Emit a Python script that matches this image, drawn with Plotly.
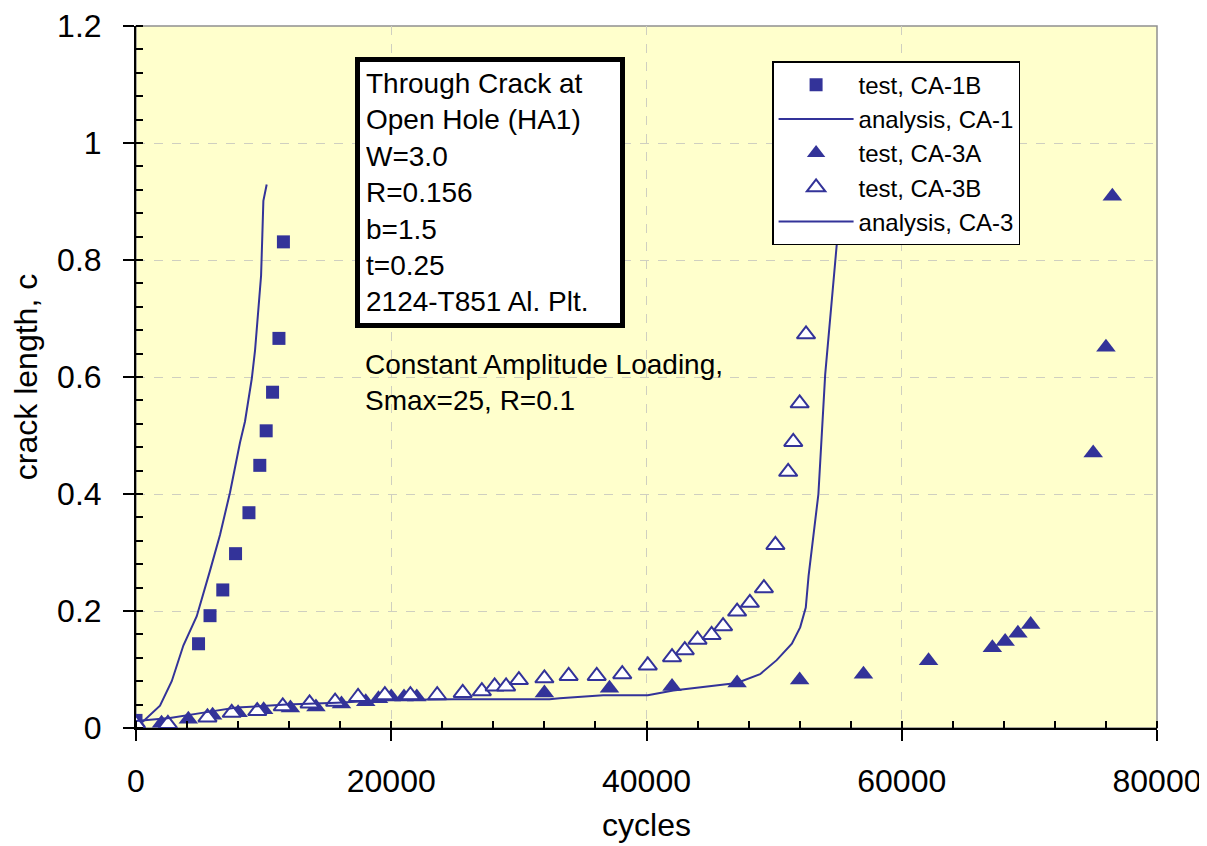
import plotly.graph_objects as go

# ---------------- data ----------------
ca1b_cycles = [0, 4900, 5800, 6800, 7800, 8850, 9700, 10200, 10700, 11200, 11550]
ca1b_crack = [0.013, 0.144, 0.192, 0.236, 0.298, 0.368, 0.449, 0.508, 0.574, 0.666, 0.831]

ca1_cycles = [0, 550, 1880, 2800, 3710, 4760, 5800, 6580, 7370, 8150, 8540, 9070,
              9330, 9580, 9800, 9900, 9980, 10240]
ca1_crack = [0.012, 0.011, 0.038, 0.080, 0.141, 0.191, 0.269, 0.330, 0.403, 0.488,
             0.524, 0.597, 0.646, 0.719, 0.773, 0.843, 0.901, 0.929]

ca3a_cycles = [0, 2000, 4100, 6000, 8000, 10000, 12100, 14100, 16100, 18000, 19000,
               20000, 21000, 22000, 32000, 37100, 42000, 47100, 52000, 57000, 62100,
               67100, 68100, 69100, 70100, 75000, 76000, 76500]
ca3a_crack = [0.010, 0.008, 0.015, 0.022, 0.026, 0.031, 0.034, 0.036, 0.041, 0.045,
              0.050, 0.053, 0.053, 0.053, 0.060, 0.068, 0.071, 0.077, 0.082, 0.092,
              0.115, 0.137, 0.148, 0.162, 0.177, 0.470, 0.651, 0.909]

ca3b_cycles = [0, 2500, 5600, 7500, 9500, 11500, 13600, 15600, 17400, 19500, 21500,
               23600, 25600, 27100, 28100, 29000, 30000, 32000, 33900, 36100, 38100,
               40100, 42000, 43000, 44000, 45100, 46000, 47100, 48100, 49200, 50100,
               51100, 51500, 52000, 52500]
ca3b_crack = [0.007, 0.007, 0.018, 0.026, 0.029, 0.037, 0.042, 0.045, 0.053, 0.056,
              0.056, 0.056, 0.060, 0.063, 0.071, 0.071, 0.082, 0.085, 0.089, 0.089,
              0.092, 0.107, 0.121, 0.133, 0.151, 0.159, 0.174, 0.199, 0.214, 0.239,
              0.313, 0.438, 0.489, 0.555, 0.673]

ca3_cycles = [0, 2660, 5800, 7890, 11810, 15730, 19900, 24870, 32400, 33200, 36600,
              40100, 42100, 47080, 48900, 50200, 51390, 52040, 52480, 52700, 53470,
              54000, 55040, 55500]
ca3_crack = [0.012, 0.017, 0.028, 0.035, 0.040, 0.043, 0.048, 0.049, 0.049, 0.051,
             0.056, 0.056, 0.064, 0.077, 0.092, 0.116, 0.144, 0.172, 0.206, 0.260,
             0.400, 0.604, 0.859, 0.940]

x_ticks = [0, 20000, 40000, 60000, 80000]
x_tick_labels = ["0", "20000", "40000", "60000", "80000"]
y_ticks = [0, 0.2, 0.4, 0.6, 0.8, 1.0, 1.2]
y_tick_labels = ["0", "0.2", "0.4", "0.6", "0.8", "1", "1.2"]

info_lines = ["Through Crack at", "Open Hole (HA1)", "W=3.0", "R=0.156", "b=1.5",
              "t=0.25", "2124-T851 Al. Plt."]
loading_lines = ["Constant Amplitude Loading,", "Smax=25, R=0.1"]

# ---------------- styling ----------------
BLUE = "#333399"
FONT = "Arial, Liberation Sans, sans-serif"

fig = go.Figure()
fig.add_trace(go.Scatter(x=ca1b_cycles, y=ca1b_crack, mode="markers", name="test, CA-1B",
                         marker=dict(symbol="square", size=13, color=BLUE)))
fig.add_trace(go.Scatter(x=ca1_cycles, y=ca1_crack, mode="lines", name="analysis, CA-1",
                         line=dict(color=BLUE, width=2)))
fig.add_trace(go.Scatter(x=ca3a_cycles, y=ca3a_crack, mode="markers", name="test, CA-3A",
                         marker=dict(symbol="triangle-up", size=17, color=BLUE)))
fig.add_trace(go.Scatter(x=ca3b_cycles, y=ca3b_crack, mode="markers", name="test, CA-3B",
                         marker=dict(symbol="triangle-up", size=16, color="white",
                                     line=dict(color=BLUE, width=2))))
fig.add_trace(go.Scatter(x=ca3_cycles, y=ca3_crack, mode="lines", name="analysis, CA-3",
                         line=dict(color=BLUE, width=2)))

axis_common = dict(
    showline=True, linecolor="black", linewidth=2,
    ticks="outside", ticklen=11, tickwidth=2, tickcolor="black",
    showgrid=True, gridcolor="#CFCFC0", griddash="dash", gridwidth=1,
    zeroline=False, tickfont=dict(size=32, family=FONT, color="black"),
    automargin=False, ticklabeloverflow="allow",
)

fig.update_xaxes(
    range=[0, 80000], tickmode="array", tickvals=x_ticks, ticktext=x_tick_labels,
    title=dict(text="cycles", font=dict(size=32, family=FONT, color="black"), standoff=15),
    minor=dict(dtick=4000, ticks="inside", ticklen=7, tickwidth=2, tickcolor="black",
               showgrid=False),
    ticklabelstandoff=13,
    **axis_common,
)
fig.update_yaxes(
    range=[0, 1.2], tickmode="array", tickvals=y_ticks, ticktext=y_tick_labels,
    title=dict(text="crack length, c", font=dict(size=32, family=FONT, color="black"),
               standoff=13),
    minor=dict(dtick=0.04, ticks="inside", ticklen=7, tickwidth=2, tickcolor="black",
               showgrid=False),
    ticklabelstandoff=15,
    **axis_common,
)

fig.add_shape(type="rect", xref="paper", yref="paper", x0=0, y0=0, x1=1, y1=1,
              line=dict(color="#909090", width=1.5), layer="below")

fig.add_annotation(
    xref="paper", yref="paper", x=0.2145, y=0.9558, xanchor="left", yanchor="top",
    text="<br>".join(info_lines), align="left", showarrow=False, width=248,
    font=dict(size=28, family=FONT, color="black"),
    bgcolor="white", bordercolor="black", borderwidth=5, borderpad=6,
)
fig.add_annotation(
    xref="paper", yref="paper", x=0.222, y=0.543, xanchor="left", yanchor="top",
    text="<br>".join(loading_lines), align="left", showarrow=False,
    font=dict(size=28, family=FONT, color="black"),
)

# The page body has an 8px margin: shrink the figure and its margins by that much
fig.update_layout(
    width=1199, height=838,
    margin=dict(l=128, r=50, t=18, b=118, autoexpand=False),
    paper_bgcolor="white", plot_bgcolor="#FFFFCC",
    font=dict(family=FONT, color="black"),
    showlegend=True,
    legend=dict(x=0.623, y=0.950, xanchor="left", yanchor="top",
                bgcolor="white", bordercolor="black", borderwidth=1.5,
                font=dict(size=24, family=FONT, color="black"),
                itemwidth=75, tracegroupgap=0),
)

fig.write_html("out.html")
